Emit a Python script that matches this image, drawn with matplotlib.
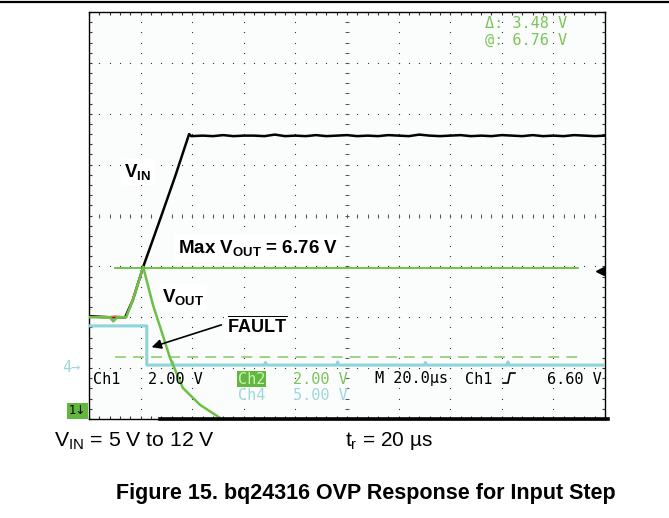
import matplotlib
matplotlib.use('Agg')
import matplotlib.pyplot as plt
import numpy as np
from matplotlib.lines import Line2D

plt.rcParams['font.family'] = ['Liberation Sans', 'DejaVu Sans']
plt.rcParams['mathtext.fontset'] = 'custom'
plt.rcParams['mathtext.rm'] = 'Liberation Sans'
plt.rcParams['mathtext.bf'] = 'Liberation Sans:bold'
plt.rcParams['mathtext.it'] = 'Liberation Sans:italic'

# traces, in screen divisions (10 x 8)
vin_t = [0.0, 0.41, 0.70, 0.85, 1.05, 1.38, 1.67, 1.94, 1.98,
         2.2, 2.4, 2.6, 2.8, 3.0, 3.2, 3.4, 3.6, 3.8, 4.0, 4.2, 4.4, 4.6, 4.8, 5.0,
         5.2, 5.4, 5.6, 5.8, 6.0, 6.2, 6.4, 6.6, 6.8, 7.0, 7.2, 7.4, 7.6, 7.8, 8.0,
         8.2, 8.4, 8.6, 8.8, 9.0, 9.2, 9.4, 9.6, 9.8, 10.0]
vin_v = [2.02, 2.00, 2.00, 2.34, 2.99, 3.93, 4.77, 5.60, 5.56,
         5.57, 5.56, 5.58, 5.56, 5.57, 5.57, 5.56, 5.59, 5.56, 5.57, 5.56, 5.58, 5.56, 5.57, 5.58,
         5.56, 5.57, 5.56, 5.58, 5.57, 5.56, 5.59, 5.57, 5.56, 5.57, 5.58, 5.56, 5.57, 5.56, 5.58,
         5.57, 5.56, 5.58, 5.56, 5.57, 5.56, 5.58, 5.57, 5.56, 5.57]

red_t = [0.0, 0.3, 0.5, 0.72, 0.85, 1.05]
red_v = [2.01, 1.99, 2.02, 2.00, 2.36, 2.99]

vout_t = [0.0, 0.40, 0.47, 0.55, 0.72, 0.86, 1.05, 1.24, 1.41, 1.57, 1.82, 2.15, 2.54, 2.64]
vout_v = [2.00, 2.00, 1.92, 2.00, 2.00, 2.36, 2.99, 2.24, 1.71, 1.20, 0.61, 0.28, 0.02, -0.1]

fault_t = [0.0, 1.12, 1.12, 1.6, 1.62, 1.64, 3.4, 3.42, 3.44, 4.8, 4.82, 4.84, 6.5, 6.52, 6.54, 8.1, 8.12, 8.14, 10.0]
fault_v = [1.83, 1.83, 1.06, 1.06, 1.12, 1.06, 1.06, 1.11, 1.06, 1.06, 1.12, 1.06, 1.06, 1.11, 1.06, 1.06, 1.12, 1.06, 1.06]

max_vout = 2.97      # cursor line
cursor2 = 1.22       # dashed cursor
cursor_span = [0.50, 9.48]

W, H = 669, 518
fig = plt.figure(figsize=(W / 100, H / 100), dpi=100)
fig.patch.set_facecolor('white')


def P(x, y):
    return x / W, 1 - y / H


ax = fig.add_axes([89 / W, (H - 419) / H, 516 / W, 407 / H])
ax.set_xlim(0, 10)
ax.set_ylim(0, 8)
ax.set_facecolor('#fbfdfd')
for s in ax.spines.values():
    s.set_linewidth(1.0)
    s.set_color('black')
ax.set_xticks(np.arange(0, 10.01, 0.2))
ax.set_yticks(np.arange(0, 8.01, 0.2))
ax.tick_params(direction='in', length=2.5, width=0.8, top=True, right=True,
               labelbottom=False, labelleft=False, colors='#333333')

# graticule dots
minor = np.arange(0, 10.01, 0.2)
for gx in range(1, 10):
    yy = np.arange(0, 8.01, 0.2)
    ax.scatter(np.full_like(yy, gx), yy, s=0.8, c='#333333', lw=0, zorder=1)
for gy in range(1, 8):
    ax.scatter(minor, np.full_like(minor, gy), s=0.8, c='#333333', lw=0, zorder=1)
ax.plot(np.full(41, 5.0), np.arange(0, 8.01, 0.2), ls='none', marker='_', ms=2.5, mew=0.7, c='#555555', zorder=1)
ax.plot(minor, np.full_like(minor, 4.0), ls='none', marker='|', ms=2.5, mew=0.7, c='#555555', zorder=1)

# cursors
ax.plot(cursor_span, [max_vout, max_vout], c='#66c03a', lw=1.3, zorder=2)
ax.plot(cursor_span, [cursor2, cursor2], c='#9ad07a', lw=1.3, ls=(0, (6, 4)), zorder=2)

# traces
ax.plot(fault_t, fault_v, c='#8fd4d8', lw=2.2, zorder=3)
ax.plot(vin_t, vin_v, c='black', lw=1.8, zorder=4)
ax.plot(red_t, red_v, c='#e86a5c', lw=1.4, zorder=5)
ax.plot(vout_t, vout_v, c='#6cc046', lw=1.8, zorder=6)

# trigger marker on the right
ax.plot([9.9], [2.91], marker='<', ms=6, c='black', clip_on=False, zorder=7)
ax.plot([9.9, 10.0], [2.91, 2.91], c='black', lw=1.2, clip_on=False, zorder=7)

# thick bottom edge
ax.plot([1.38, 10.06], [0, 0], c='black', lw=2.6, clip_on=False, zorder=8)

# top rule
fig.add_artist(Line2D([0, 1], [1 - 2 / H, 1 - 2 / H], color='black', lw=1.6))

mono = 11
sf = 'DejaVu Sans Mono'
fig.text(*P(485, 23), 'Δ: 3.48 V', color='#7cc45a', fontsize=mono, va='center', family=sf)
fig.text(*P(485, 40), '@: 6.76 V', color='#7cc45a', fontsize=mono, va='center', family=sf)

fig.text(*P(93, 379), 'Ch1', color='black', fontsize=mono, va='center', family=sf)
fig.text(*P(148, 379), '2.00 V', color='black', fontsize=mono, va='center', family=sf)
fig.text(*P(238, 379), 'Ch2', color='#c8f0b4', fontsize=mono, va='center', family=sf,
         bbox=dict(fc='#62b83e', ec='none', pad=0.5))
fig.text(*P(293, 379), '2.00 V', color='#7cc45a', fontsize=mono, va='center', family=sf)
fig.text(*P(238, 395), 'Ch4', color='#9ed8dc', fontsize=mono, va='center', family=sf)
fig.text(*P(293, 395), '5.00 V', color='#9ed8dc', fontsize=mono, va='center', family=sf)
fig.text(*P(375, 379), 'M 20.0µs', color='black', fontsize=mono, va='center', family=sf)
fig.text(*P(465, 379), 'Ch1', color='black', fontsize=mono, va='center', family=sf)
fig.text(*P(547, 379), '6.60 V', color='black', fontsize=mono, va='center', family=sf)
# trigger slope glyph
sx = [(503 - 89) / 51.6, (508 - 89) / 51.6, (510 - 89) / 51.6, (515 - 89) / 51.6]
sy = [(419 - 383) / 50.9, (419 - 383) / 50.9, (419 - 373) / 50.9, (419 - 373) / 50.9]
ax.plot(sx, sy, c='black', lw=1.2, zorder=9)

fig.text(*P(62, 367), '4→', color='#9ed8dc', fontsize=mono, va='center', family=sf)
fig.text(*P(69, 411), '1↓', color='black', fontsize=8.5, va='center', family='DejaVu Sans',
         bbox=dict(fc='#62b83e', ec='none', pad=1.2))

wb = dict(fc='white', ec='none', pad=2)
fig.text(*P(124, 172), r'V$_{\mathbf{IN}}$', fontsize=13.5, fontweight='bold', va='center', bbox=wb)
fig.text(*P(178, 248), r'Max V$_{\mathbf{OUT}}$ = 6.76 V', fontsize=13.5, fontweight='bold', va='center', bbox=wb)
fig.text(*P(162, 297), r'V$_{\mathbf{OUT}}$', fontsize=13.5, fontweight='bold', va='center', bbox=wb)
fig.text(*P(227, 326), r'$\mathbf{\overline{FAULT}}$', fontsize=13, va='center', bbox=wb)

ax.annotate('', xy=((149 - 89) / 51.6, (419 - 348) / 50.9),
            xytext=((224 - 89) / 51.6, (419 - 324) / 50.9),
            arrowprops=dict(arrowstyle='-|>', color='black', lw=1.2, mutation_scale=14), zorder=10)

fig.text(*P(54, 441), r'V$_{\mathrm{IN}}$ = 5 V to 12 V', fontsize=15.3, va='center')
fig.text(*P(345, 441), r't$_{\mathrm{r}}$ = 20 µs', fontsize=15, va='center')
fig.text(*P(116, 493), 'Figure 15. bq24316 OVP Response for Input Step', fontsize=15.5,
         fontweight='bold', va='center')

fig.savefig('out.png', dpi=100)
